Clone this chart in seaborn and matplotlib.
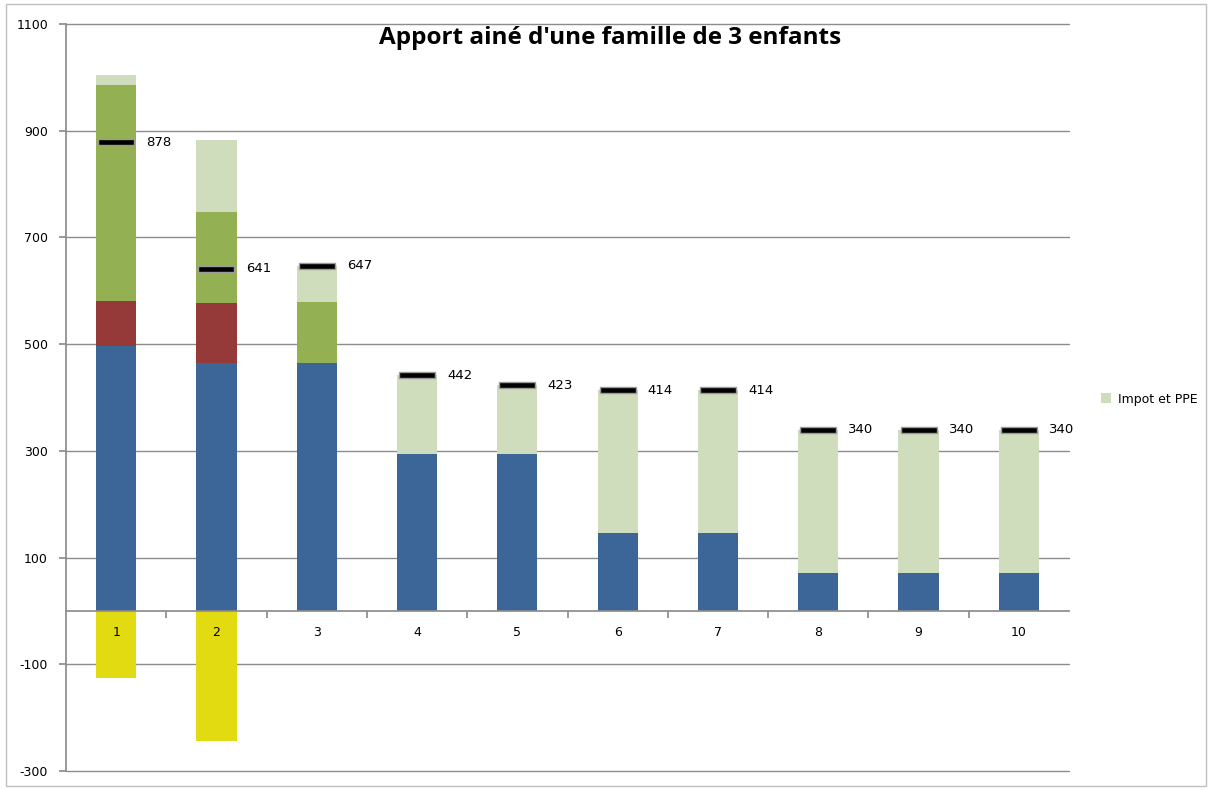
import numpy as np
import pandas as pd
import seaborn as sns
import matplotlib.pyplot as plt
from matplotlib.patches import Rectangle, Patch

categories = ["1", "2", "3", "4", "5", "6", "7", "8", "9", "10"]
base = [497, 465, 465, 294, 294, 146, 146, 71, 71, 71]
red_part = [84, 112, 0, 0, 0, 0, 0, 0, 0, 0]
green_part = [405, 171, 114, 0, 0, 0, 0, 0, 0, 0]
impot_ppe = [18, 135, 68, 148, 129, 268, 268, 269, 269, 269]
negative = [-126, -244, 0, 0, 0, 0, 0, 0, 0, 0]
totals = [878, 641, 647, 442, 423, 414, 414, 340, 340, 340]

sns.set_theme(style="white")
plt.rcParams['font.family'] = ['DejaVu Sans']
plt.rcParams['axes.unicode_minus'] = False
plt.rcParams['text.color'] = 'black'
plt.rcParams['ytick.labelcolor'] = 'black'

fig = plt.figure(figsize=(12.11, 7.90), dpi=100)
ax = fig.add_axes([66 / 1211, 19 / 790, (1069 - 66) / 1211, (771 - 24) / 790])

layers = [
    (base, "#3C6598"),
    (red_part, "#953A39"),
    (green_part, "#93B053"),
    (impot_ppe, "#CFDDBC"),
]
bottom = np.zeros(len(categories))
for vals, col in layers:
    sns.barplot(x=categories, y=vals, bottom=bottom, color=col, width=0.4,
                saturation=1, ax=ax, zorder=2, linewidth=0)
    bottom = bottom + np.array(vals)

sns.barplot(x=categories, y=negative, color="#E2DB12", width=0.4,
            saturation=1, ax=ax, zorder=2, linewidth=0)

# total markers
bar_verts = [(-1, -0.18), (1, -0.18), (1, 0.18), (-1, 0.18), (-1, -0.18)]
df = pd.DataFrame({"cat": categories, "total": totals})
sns.scatterplot(data=df, x="cat", y="total", marker=bar_verts, s=650,
                color="black", edgecolor="#9A9A9A", linewidth=1, ax=ax,
                zorder=4, legend=False)
for i, t in enumerate(totals):
    ax.text(i + 0.3, t, str(t), va="center", ha="left", fontsize=9.5,
            color="black", zorder=5)

ax.set_ylim(-300, 1100)
ax.set_xlim(-0.5, len(categories) - 0.5)
ax.set_yticks(np.arange(-300, 1101, 200))
ax.yaxis.grid(True, color="#8C8C8C", linewidth=1, zorder=0)
for gl in ax.yaxis.get_gridlines():
    gl.set_clip_on(False)
ax.set_axisbelow(True)
ax.tick_params(axis="y", direction="out", length=5, color="#8C8C8C",
               labelsize=9, pad=8, left=True, labelcolor="black")
ax.set_xlabel("")
ax.set_ylabel("")

ax.spines["right"].set_visible(False)
ax.spines["top"].set_visible(False)
ax.spines["left"].set_color("#8C8C8C")
ax.spines["bottom"].set_color("#8C8C8C")
ax.spines["bottom"].set_position(("data", 0))
ax.spines["bottom"].set_zorder(3)

ax.set_xticks(np.arange(0.5, len(categories) - 0.5, 1))
ax.set_xticklabels([])
ax.tick_params(axis="x", which="major", direction="out", length=5,
               color="#8C8C8C", bottom=True)
for i, c in enumerate(categories):
    ax.annotate(c, (i, 0), xytext=(0, -22), textcoords="offset pixels",
                ha="center", va="center", fontsize=9, color="black", zorder=5)

fig.text(610 / 1211, 1 - 38 / 790, "Apport ainé d'une famille de 3 enfants",
         ha="center", va="center", fontsize=17.5, fontweight="bold",
         color="black", family=["Open Sans", "DejaVu Sans"])

fig.legend(handles=[Patch(facecolor="#CFDDBC", edgecolor="none",
                          label="Impot et PPE")],
           loc="center left", bbox_to_anchor=(1090 / 1211, 1 - 399 / 790),
           frameon=False, fontsize=9, handlelength=0.8, handleheight=0.8,
           handletextpad=0.5)

fig.patches.append(Rectangle((6 / 1211, 4 / 790), 1200 / 1211, 1 - 8 / 790,
                             transform=fig.transFigure, fill=False,
                             edgecolor="#BFBFBF", linewidth=1))

fig.savefig("out.png", dpi=100)
